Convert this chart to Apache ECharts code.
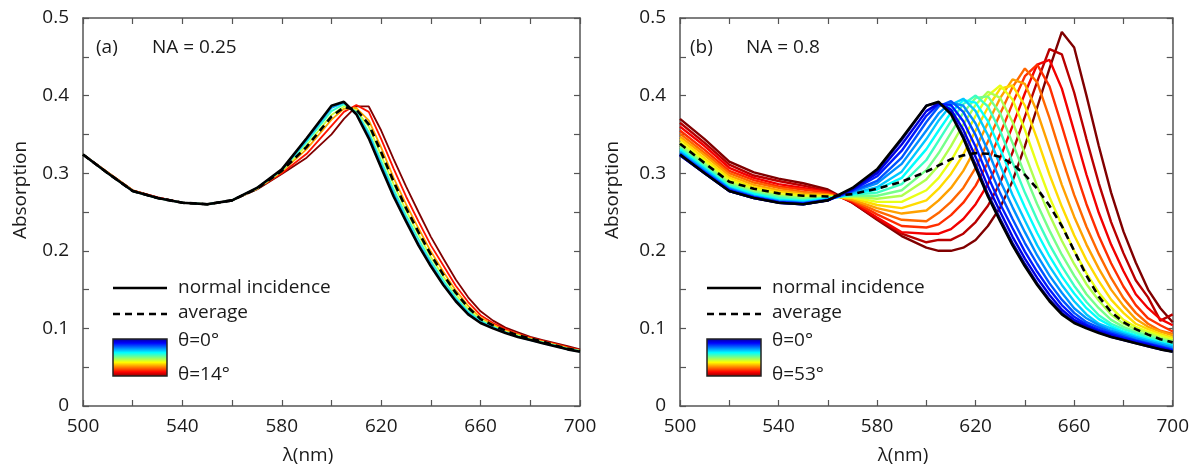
<!DOCTYPE html>
<html lang="en">
<head>
  <meta charset="UTF-8">
  <title>Absorption vs wavelength</title>
  <script src="https://cdn.jsdelivr.net/npm/echarts@6/dist/echarts.min.js"></script>
  <style>
    html, body { margin: 0; padding: 0; background: #fff; }
    #main { width: 1192px; height: 467px; }
  </style>
</head>
<body>
  <div id="main"></div>
  <script type="text/javascript">
    // wavelength grid (nm)
    var wl = [500, 510, 520, 530, 540, 550, 560, 570, 580, 590, 600,
      605, 610, 615, 620, 625, 630, 635, 640, 645, 650, 655, 660, 665, 670, 675, 680, 685, 690, 695, 700];

    var normalIncidence = [.324, .300, .277, .268, .262, .260, .265, .281, .305, .345, .387,
      .392, .376, .345, .307, .270, .238, .207, .180, .156, .135, .118, .107, .100, .094, .089, .085, .081, .077, .073, .070];

    // (a) NA = 0.25
    var anglesA = [4, 6, 8, 10, 12, 14];
    var spectraA = [
      [.324, .300, .277, .268, .262, .260, .265, .281, .304, .343, .384, .391, .377, .349, .311, .274, .241, .210, .183, .158, .137, .120, .108, .101, .095, .089, .085, .081, .077, .073, .070],
      [.324, .300, .277, .268, .262, .260, .265, .281, .304, .340, .380, .389, .379, .353, .316, .279, .246, .215, .187, .162, .140, .122, .110, .102, .095, .090, .086, .082, .078, .074, .071],
      [.324, .300, .277, .268, .262, .260, .265, .280, .303, .336, .375, .386, .381, .360, .323, .286, .252, .221, .192, .167, .144, .125, .111, .103, .096, .091, .086, .082, .078, .074, .071],
      [.324, .301, .278, .268, .262, .260, .265, .280, .302, .331, .369, .383, .384, .368, .333, .294, .260, .229, .199, .173, .149, .129, .114, .105, .097, .092, .087, .083, .079, .075, .071],
      [.324, .301, .278, .269, .262, .260, .265, .280, .300, .325, .361, .379, .388, .379, .344, .306, .270, .238, .207, .181, .155, .134, .117, .107, .099, .093, .088, .084, .080, .076, .072],
      [.324, .301, .278, .269, .262, .260, .265, .279, .299, .320, .350, .370, .386, .386, .355, .318, .283, .250, .218, .190, .163, .140, .122, .110, .101, .095, .089, .085, .081, .077, .073]
    ];
    var averageA = [.324, .300, .277, .268, .262, .260, .265, .280, .303, .334, .373,
      .385, .382, .363, .327, .289, .255, .224, .195, .169, .146, .127, .112, .104, .097, .091, .087, .083, .078, .074, .071];

    // (b) NA = 0.8
    var anglesB = [2, 5, 8, 11, 14, 17, 20, 23, 26, 29, 32, 35, 38, 41, 44, 47, 50, 53];
    var spectraB = [
      [.323, .300, .277, .268, .262, .260, .265, .280, .303, .343, .387, .391, .378, .348, .311, .273, .241, .210, .183, .158, .137, .120, .108, .101, .095, .089, .085, .081, .077, .073, .070],
      [.323, .300, .277, .268, .262, .260, .265, .279, .300, .337, .380, .390, .382, .356, .321, .283, .250, .218, .190, .165, .143, .124, .111, .103, .096, .091, .086, .082, .079, .075, .071],
      [.324, .301, .278, .269, .263, .261, .265, .278, .296, .329, .374, .389, .388, .367, .334, .296, .260, .229, .199, .173, .150, .130, .115, .105, .098, .093, .088, .084, .080, .076, .072],
      [.325, .302, .279, .269, .263, .261, .266, .277, .290, .320, .366, .386, .393, .379, .349, .311, .274, .241, .210, .183, .158, .137, .120, .108, .101, .095, .090, .085, .081, .077, .073],
      [.326, .303, .280, .270, .264, .262, .266, .276, .287, .312, .355, .377, .391, .387, .364, .329, .290, .256, .224, .194, .168, .146, .126, .113, .104, .097, .092, .087, .083, .079, .075],
      [.328, .305, .281, .271, .265, .263, .266, .274, .282, .302, .344, .368, .388, .396, .380, .349, .310, .272, .239, .207, .180, .156, .135, .118, .106, .100, .094, .089, .085, .081, .077],
      [.330, .306, .282, .273, .266, .264, .267, .273, .279, .294, .331, .355, .378, .394, .391, .367, .331, .292, .256, .223, .193, .167, .145, .126, .112, .103, .096, .091, .086, .082, .078],
      [.332, .308, .284, .274, .268, .265, .268, .272, .275, .286, .317, .342, .367, .389, .400, .386, .354, .314, .275, .240, .208, .180, .155, .134, .117, .106, .099, .094, .088, .085, .080],
      [.334, .311, .286, .276, .270, .267, .268, .271, .271, .278, .304, .326, .352, .378, .397, .399, .377, .339, .298, .260, .226, .195, .168, .144, .126, .111, .102, .096, .091, .086, .082],
      [.337, .313, .288, .278, .271, .268, .269, .270, .267, .271, .292, .310, .335, .363, .388, .405, .397, .366, .325, .283, .246, .213, .183, .157, .136, .118, .106, .099, .094, .088, .084],
      [.340, .316, .291, .280, .273, .270, .270, .269, .263, .263, .278, .294, .316, .344, .374, .400, .413, .395, .356, .311, .269, .233, .200, .171, .146, .127, .111, .102, .096, .091, .086],
      [.344, .319, .294, .282, .276, .272, .271, .268, .259, .255, .265, .280, .299, .324, .355, .385, .409, .413, .387, .344, .298, .257, .220, .188, .161, .137, .120, .106, .099, .093, .088],
      [.347, .323, .297, .285, .278, .274, .272, .266, .255, .248, .252, .265, .281, .303, .332, .365, .397, .421, .415, .379, .332, .285, .244, .208, .177, .150, .129, .112, .102, .096, .091],
      [.351, .326, .300, .288, .281, .276, .273, .265, .251, .240, .238, .249, .263, .281, .307, .341, .377, .411, .435, .417, .371, .320, .272, .231, .196, .165, .139, .120, .106, .097, .093],
      [.355, .330, .303, .291, .283, .279, .275, .264, .247, .232, .230, .234, .246, .262, .284, .314, .351, .390, .425, .440, .412, .361, .308, .260, .219, .184, .154, .130, .113, .104, .096],
      [.360, .335, .307, .294, .286, .281, .276, .263, .243, .224, .222, .222, .228, .241, .260, .286, .320, .361, .403, .440, .446, .409, .354, .298, .249, .208, .174, .144, .126, .112, .104],
      [.365, .339, .311, .297, .290, .284, .277, .262, .241, .222, .211, .214, .214, .222, .237, .258, .288, .327, .373, .418, .460, .453, .404, .344, .287, .237, .197, .162, .140, .110, .118],
      [.370, .344, .315, .301, .293, .287, .279, .262, .240, .219, .204, .200, .200, .204, .214, .232, .256, .290, .335, .385, .435, .482, .462, .400, .335, .275, .225, .185, .150, .126, .108]
    ];
    var averageB = [.338, .313, .289, .280, .274, .271, .270, .273, .280, .289, .302,
      .310, .318, .323, .326, .325, .321, .312, .298, .280, .258, .232, .200, .168, .141, .121, .108, .099, .092, .086, .082];

    var FONT = 'Open Sans';
    var TXT = '#1a1a1a';
    var FRAME = '#555';

    // jet colormap
    function jet(t) {
      function c(x) { return Math.round(255 * Math.max(0, Math.min(1, 1.5 - Math.abs(x)))); }
      return 'rgb(' + c(4 * t - 3) + ',' + c(4 * t - 2) + ',' + c(4 * t - 1) + ')';
    }

    function xAxisCfg(grid, pos) {
      return {
        type: 'value', gridIndex: grid, position: pos, min: 500, max: 700, interval: 20,
        axisLine: { show: true, onZero: false, lineStyle: { color: FRAME, width: 1.5 } },
        axisTick: { show: true, inside: true, length: 6, lineStyle: { color: FRAME, width: 1.2 } },
        axisLabel: {
          show: pos === 'bottom', margin: 11, color: TXT, fontFamily: FONT, fontSize: 19,
          formatter: function (v) { return (v - 500) % 40 === 0 ? String(v) : ''; }
        },
        splitLine: { show: false }
      };
    }

    function yAxisCfg(grid, pos) {
      return {
        type: 'value', gridIndex: grid, position: pos, min: 0, max: 0.5, interval: 0.05,
        axisLine: { show: true, onZero: false, lineStyle: { color: FRAME, width: 1.5 } },
        axisTick: { show: true, inside: true, length: 6, lineStyle: { color: FRAME, width: 1.2 } },
        axisLabel: {
          show: pos === 'left', margin: 14, color: TXT, fontFamily: FONT, fontSize: 19,
          formatter: function (v) {
            var r = Math.round(v * 100);
            return r % 10 === 0 ? String(r / 100) : '';
          }
        },
        splitLine: { show: false }
      };
    }

    function line(vals, color, width, axis, dash) {
      return {
        type: 'line', xAxisIndex: axis, yAxisIndex: axis, silent: true,
        symbol: 'none', smooth: false,
        data: wl.map(function (x, i) { return [x, vals[i]]; }),
        lineStyle: { color: color, width: width, type: dash || 'solid' }
      };
    }

    var series = [];
    // panel (a): xAxis/yAxis 0
    for (var i = spectraA.length - 1; i >= 0; i--) {
      series.push(line(spectraA[i], jet(anglesA[i] / 14), 1.8, 0));
    }
    series.push(line(normalIncidence, '#000', 2.6, 0));
    series.push(line(averageA, '#000', 2.6, 0, [7, 5]));
    // panel (b): xAxis/yAxis 2
    for (var j = spectraB.length - 1; j >= 0; j--) {
      series.push(line(spectraB[j], jet(anglesB[j] / 53), 2.4, 2));
    }
    series.push(line(normalIncidence, '#000', 2.6, 2));
    series.push(line(averageB, '#000', 2.6, 2, [7, 5]));

    var jetStops = [
      { offset: 0, color: '#00008f' }, { offset: 0.125, color: '#0000ff' },
      { offset: 0.375, color: '#00ffff' }, { offset: 0.625, color: '#ffff00' },
      { offset: 0.875, color: '#ff0000' }, { offset: 1, color: '#800000' }
    ];

    function txt(x, y, s, extra) {
      var o = {
        type: 'text', x: x, y: y, silent: true,
        style: { text: s, fill: TXT, font: '19px "' + FONT + '"', textAlign: 'left', textVerticalAlign: 'middle' }
      };
      if (extra) { for (var k in extra) o.style[k] = extra[k]; }
      return o;
    }

    function legend(x0, tag, na, maxAngle) {
      return [
        txt(x0 - 17, 48, tag),
        txt(x0 + 39, 48, na),
        { type: 'line', silent: true, shape: { x1: x0, y1: 288, x2: x0 + 54, y2: 288 }, style: { stroke: '#000', lineWidth: 2.6 } },
        txt(x0 + 65, 288, 'normal incidence'),
        { type: 'line', silent: true, shape: { x1: x0, y1: 314, x2: x0 + 54, y2: 314 }, style: { stroke: '#000', lineWidth: 2.6, lineDash: [7, 5] } },
        txt(x0 + 65, 313, 'average'),
        {
          type: 'rect', silent: true, shape: { x: x0, y: 339, width: 54, height: 37 },
          style: { fill: { type: 'linear', x: 0, y: 0, x2: 0, y2: 1, colorStops: jetStops }, stroke: '#222', lineWidth: 1.5 }
        },
        txt(x0 + 65, 341, 'θ=0°'),
        txt(x0 + 65, 375, 'θ=' + maxAngle + '°')
      ];
    }

    var graphics = [].concat(
      legend(113, '(a)', 'NA = 0.25', 14),
      legend(707, '(b)', 'NA = 0.8', 53),
      [
        { type: 'text', x: 21, y: 190, rotation: Math.PI / 2, silent: true, style: { text: 'Absorption', fill: TXT, font: '19px "' + FONT + '"', textAlign: 'center', textVerticalAlign: 'middle' } },
        { type: 'text', x: 613, y: 190, rotation: Math.PI / 2, silent: true, style: { text: 'Absorption', fill: TXT, font: '19px "' + FONT + '"', textAlign: 'center', textVerticalAlign: 'middle' } },
        txt(308, 456, 'λ(nm)', { textAlign: 'center' }),
        txt(903, 456, 'λ(nm)', { textAlign: 'center' })
      ]
    );

    var chart = echarts.init(document.getElementById('main'), null, { renderer: 'canvas' });
    chart.setOption({
      animation: false,
      backgroundColor: '#fff',
      grid: [
        { left: 83, right: 612, top: 18, bottom: 61 },
        { left: 680, right: 17, top: 18, bottom: 61 }
      ],
      xAxis: [xAxisCfg(0, 'bottom'), xAxisCfg(0, 'top'), xAxisCfg(1, 'bottom'), xAxisCfg(1, 'top')],
      yAxis: [yAxisCfg(0, 'left'), yAxisCfg(0, 'right'), yAxisCfg(1, 'left'), yAxisCfg(1, 'right')],
      series: series,
      graphic: graphics
    });
  </script>
</body>
</html>
